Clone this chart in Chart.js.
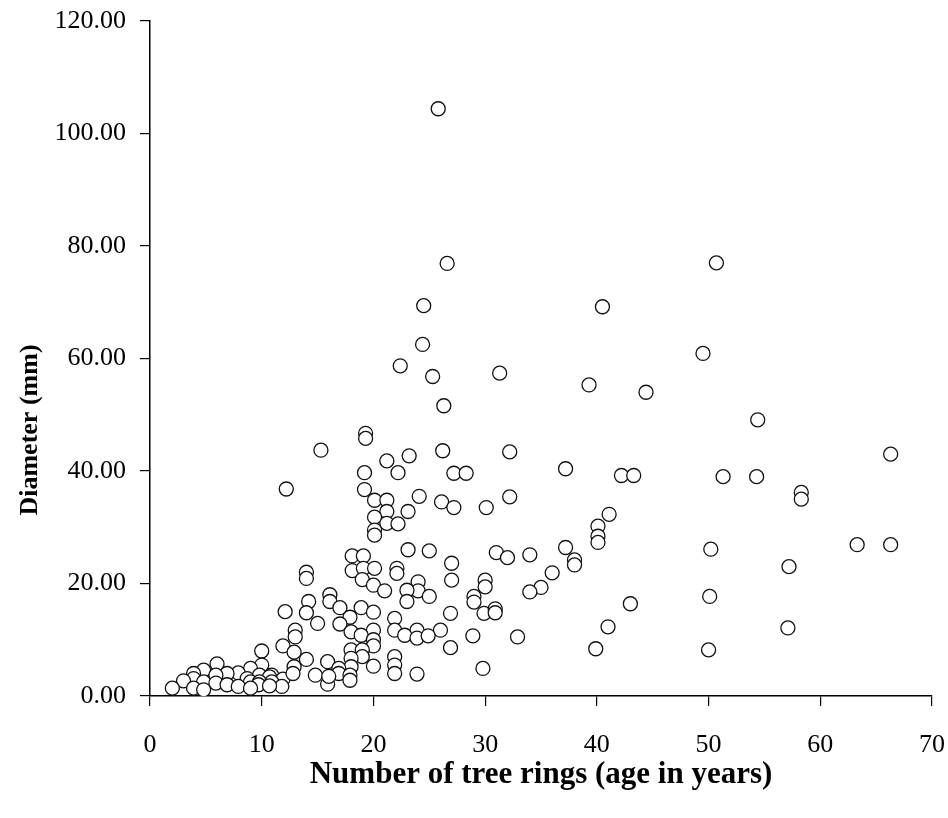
<!DOCTYPE html>
<html>
<head>
<meta charset="utf-8">
<script src="https://cdn.jsdelivr.net/npm/chart.js@4.4.1/dist/chart.umd.min.js"></script>
<style>
  html, body { margin: 0; padding: 0; background: #ffffff; }
  #wrap { width: 948px; height: 818px; position: relative; }
</style>
</head>
<body>
<div id="wrap"><canvas id="c" width="948" height="818"></canvas></div>
<script>
// Number of tree rings (age in years)
const treeRings = [
  25.8, 26.6, 50.7, 24.5, 40.5, 24.4, 49.5, 22.4, 25.3, 31.3,
  39.3, 44.4, 26.3, 54.4, 19.3, 19.3, 15.3, 26.2, 32.2, 66.3,
  23.2, 21.2, 37.2, 19.2, 22.2, 27.2, 28.3, 42.2, 43.3, 51.3,
  54.3, 12.2, 19.2, 58.3, 58.3, 24.1, 32.2, 20.1, 21.2, 26.1,
  27.2, 30.1, 21.2, 23.1, 41.1, 20.1, 21.2, 22.2, 40.1, 20.1,
  20.1, 40.1, 40.1, 63.3, 66.3, 37.2, 23.1, 25.0, 50.2, 31.0,
  32.0, 34.0, 18.1, 19.1, 38.0, 38.0, 27.0, 57.2, 18.1, 19.1,
  20.1, 22.1, 22.1, 14.0, 14.0, 36.0, 19.0, 27.0, 30.0, 30.0,
  24.0, 24.0, 20.0, 21.0, 23.0, 35.0, 34.0, 16.1, 16.1, 14.2,
  23.0, 25.0, 29.0, 29.0, 50.1, 43.0, 17.0, 18.9, 20.0, 12.1,
  14.0, 26.9, 29.9, 30.9, 30.9, 17.9, 21.9, 15.0, 17.0, 41.0,
  57.1, 13.0, 20.0, 18.0, 21.9, 23.9, 26.0, 18.9, 22.8, 23.9,
  24.9, 28.9, 32.9, 13.0, 20.0, 20.0, 26.9, 39.9, 50.0, 11.9,
  18.0, 19.0, 10.0, 12.9, 19.0, 21.9, 18.0, 14.0, 15.9, 10.0,
  21.9, 18.0, 20.0, 12.9, 6.0, 16.9, 29.8, 9.0, 4.8, 7.9,
  6.9, 3.9, 16.9, 21.9, 23.9, 14.8, 17.9, 9.8, 10.9, 5.9,
  10.7, 3.9, 8.7, 11.9, 17.9, 3.0, 4.8, 9.0, 9.8, 10.9,
  5.9, 15.9, 6.9, 9.7, 7.9, 11.8, 10.7, 2.0, 3.9, 9.0,
  4.8, 12.8, 16.0
];
// Diameter (mm)
const diameters = [
  104.4, 76.9, 77.0, 69.4, 69.2, 62.5, 60.9, 58.7, 56.8, 57.4,
  55.3, 54.0, 51.6, 49.1, 46.7, 45.8, 43.7, 43.6, 43.4, 43.0,
  42.7, 41.8, 40.4, 39.7, 39.7, 39.6, 39.6, 39.2, 39.2, 39.0,
  39.0, 36.8, 36.7, 36.2, 35.0, 35.5, 35.4, 34.8, 34.8, 34.5,
  33.5, 33.5, 32.8, 32.8, 32.3, 31.8, 30.7, 30.6, 30.2, 29.5,
  28.6, 28.4, 27.3, 26.9, 26.9, 26.4, 26.0, 25.8, 26.1, 25.5,
  24.6, 25.1, 24.9, 24.9, 24.2, 23.3, 23.6, 23.0, 22.3, 22.7,
  22.7, 22.7, 21.8, 22.0, 20.9, 21.9, 20.7, 20.6, 20.6, 19.4,
  20.3, 18.7, 19.7, 18.7, 18.8, 19.3, 18.5, 18.0, 16.8, 16.8,
  16.8, 17.7, 17.7, 16.7, 17.7, 16.4, 15.7, 15.7, 14.9, 15.0,
  14.8, 14.7, 14.7, 15.5, 14.8, 14.0, 13.8, 12.9, 12.8, 12.3,
  12.1, 11.7, 11.7, 11.4, 11.7, 11.7, 11.7, 10.8, 10.8, 10.3,
  10.7, 10.7, 10.5, 10.5, 10.0, 8.9, 8.6, 8.4, 8.2, 8.9,
  8.2, 8.2, 8.0, 7.8, 7.0, 7.0, 6.7, 6.5, 6.1, 5.5,
  5.5, 5.2, 5.3, 5.2, 5.7, 4.9, 4.9, 4.9, 4.6, 4.1,
  4.0, 4.0, 4.0, 4.0, 3.9, 3.7, 3.7, 3.7, 3.7, 3.7,
  3.4, 3.1, 3.1, 3.0, 2.8, 2.7, 2.5, 2.5, 2.5, 2.5,
  2.3, 2.1, 2.0, 2.0, 1.7, 1.7, 1.8, 1.4, 1.4, 1.4,
  1.1, 4.0, 3.5
];
const xTicks = [0, 10, 20, 30, 40, 50, 60, 70];
const yTicks = [0, 20, 40, 60, 80, 100, 120];
const xTitle = 'Number of tree rings (age in years)';
const yTitle = 'Diameter (mm)';

const points = treeRings.map((x, i) => ({ x: x, y: diameters[i] }));
const SERIF = "'Liberation Serif', 'Times New Roman', serif";

const yTitlePlugin = {
  id: 'yTitlePlugin',
  afterDraw(chart) {
    const ctx = chart.ctx;
    ctx.save();
    ctx.translate(30, 430);
    ctx.rotate(-Math.PI / 2);
    ctx.font = "bold 26px " + SERIF;
    ctx.fillStyle = '#000';
    ctx.textAlign = 'center';
    ctx.textBaseline = 'middle';
    ctx.fillText(yTitle, 0, 0);
    ctx.restore();
  }
};

new Chart(document.getElementById('c'), {
  type: 'scatter',
  data: {
    datasets: [{
      data: points,
      pointStyle: 'circle',
      pointRadius: 7,
      pointHoverRadius: 7,
      pointBackgroundColor: '#ffffff',
      pointBorderColor: '#111111',
      pointBorderWidth: 1.3
    }]
  },
  options: {
    responsive: false,
    animation: false,
    devicePixelRatio: 1,
    layout: { padding: { top: 21, right: 16, left: 0, bottom: 0 } },
    plugins: { legend: { display: false }, tooltip: { enabled: false } },
    scales: {
      x: {
        type: 'linear',
        min: xTicks[0],
        max: xTicks[xTicks.length - 1],
        afterBuildTicks: (s) => { s.ticks = xTicks.map(v => ({ value: v })); },
        afterFit: (s) => { s.height = 122; s.paddingLeft = 0; s.paddingRight = 0; },
        border: { display: true, color: '#000', width: 1.5 },
        grid: { display: true, drawOnChartArea: false, drawTicks: true, tickLength: 10, color: '#000', lineWidth: 1.2 },
        ticks: {
          color: '#000',
          padding: 24,
          maxRotation: 0,
          font: { family: SERIF, size: 26 },
          callback: (v) => String(v)
        },
        title: {
          display: true,
          text: xTitle,
          color: '#000',
          font: { family: SERIF, size: 31, weight: 'bold' },
          padding: { top: 0, bottom: 24 }
        }
      },
      y: {
        type: 'linear',
        min: yTicks[0],
        max: yTicks[yTicks.length - 1],
        afterBuildTicks: (s) => { s.ticks = yTicks.map(v => ({ value: v })); },
        afterFit: (s) => { s.width = 150; s.paddingTop = 0; s.paddingBottom = 0; },
        border: { display: true, color: '#000', width: 1.5 },
        grid: { display: true, drawOnChartArea: false, drawTicks: true, tickLength: 10, color: '#000', lineWidth: 1.2 },
        ticks: {
          color: '#000',
          padding: 14,
          font: { family: SERIF, size: 26 },
          callback: (v) => Number(v).toFixed(2)
        },
        title: { display: false }
      }
    }
  },
  plugins: [yTitlePlugin]
});
</script>
</body>
</html>
